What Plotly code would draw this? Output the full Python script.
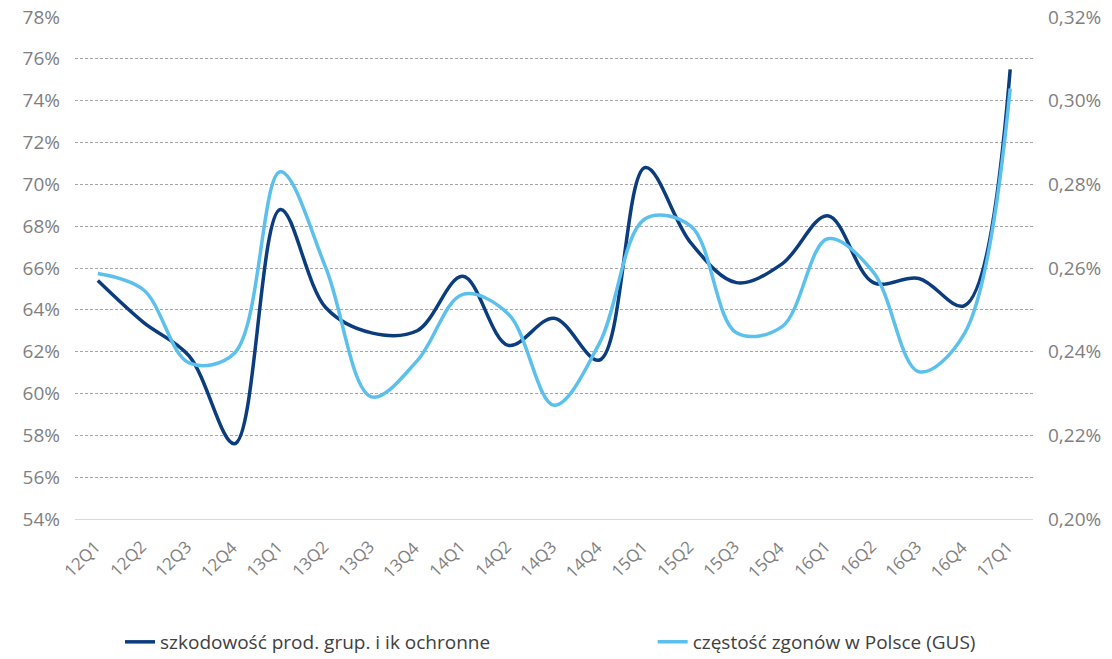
import plotly.graph_objects as go

categories = ["12Q1", "12Q2", "12Q3", "12Q4", "13Q1", "13Q2", "13Q3", "13Q4",
              "14Q1", "14Q2", "14Q3", "14Q4", "15Q1", "15Q2", "15Q3", "15Q4",
              "16Q1", "16Q2", "16Q3", "16Q4", "17Q1"]

# szkodowość prod. grup. i ik ochronne (left axis, %)
loss_ratio = [65.4, 63.4, 61.8, 57.6, 68.8, 64.1, 62.9, 63.0, 65.6, 62.3, 63.6,
              61.6, 70.8, 67.2, 65.3, 66.2, 68.5, 65.3, 65.5, 64.2, 75.5]

# częstość zgonów w Polsce (GUS) (right axis, %)
mortality = [0.2587, 0.2548, 0.2373, 0.2397, 0.2830, 0.2600, 0.2292, 0.2378,
             0.2537, 0.2490, 0.2272, 0.2421, 0.2718, 0.2700, 0.2445, 0.2460,
             0.2670, 0.2590, 0.2352, 0.2444, 0.3029]

name_loss = "szkodowość prod. grup. i ik ochronne"
name_mort = "częstość zgonów w Polsce (GUS)"

left_ticks = list(range(54, 80, 2))
right_ticks = [0.20, 0.22, 0.24, 0.26, 0.28, 0.30, 0.32]

DARK = "#0B3C7D"
LIGHT = "#5BC0EB"
FONT = "Open Sans"
TICK_COL = "#7f7f7f"

fig = go.Figure()
fig.add_trace(go.Scatter(x=categories, y=loss_ratio, name=name_loss, mode="lines",
                         line=dict(color=DARK, width=3.5, shape="spline", smoothing=1.0),
                         yaxis="y", legend="legend"))
fig.add_trace(go.Scatter(x=categories, y=mortality, name=name_mort, mode="lines",
                         line=dict(color=LIGHT, width=3.5, shape="spline", smoothing=1.0),
                         yaxis="y2", legend="legend2"))

# rotated category labels, positioned on the category axis
for cat in categories:
    fig.add_annotation(x=cat, xref="x", y=0, yref="paper",
                       text=cat, showarrow=False, textangle=-45,
                       xanchor="right", yanchor="top", xshift=10, yshift=-14,
                       font=dict(family=FONT, size=17, color=TICK_COL))

legend_common = dict(orientation="h", y=-0.245, yanchor="middle", xanchor="left",
                     font=dict(family=FONT, size=19, color="#404040"),
                     bgcolor="rgba(0,0,0,0)")

fig.update_layout(
    width=1112, height=659,
    margin=dict(l=75, r=79, t=17, b=140, autoexpand=False),
    paper_bgcolor="white", plot_bgcolor="white",
    separators=", ",
    font=dict(family=FONT, size=19, color=TICK_COL),
    showlegend=True,
    legend=dict(x=0.047, **legend_common),
    legend2=dict(x=0.603, **legend_common),
    xaxis=dict(type="category", range=[-0.5, len(categories) - 0.5],
               showticklabels=False, showgrid=False, zeroline=False,
               showline=True, linecolor="#d9d9d9", linewidth=1,
               automargin=False),
    yaxis=dict(range=[54, 78], tickvals=left_ticks,
               ticktext=[f"{v}%" for v in left_ticks],
               showgrid=True, gridcolor="#a6a6a6", gridwidth=1, griddash="3px,2px",
               zeroline=False, showline=False, ticks="",
               ticklabelstandoff=14,
               tickfont=dict(family=FONT, size=19, color=TICK_COL),
               automargin=False),
    yaxis2=dict(range=[0.20, 0.32], overlaying="y", side="right",
                tickvals=right_ticks,
                ticktext=[f"{v:.2f}%".replace(".", ",") for v in right_ticks],
                showgrid=False, zeroline=False, showline=False, ticks="",
                ticklabelstandoff=14,
                tickfont=dict(family=FONT, size=19, color=TICK_COL),
                automargin=False),
)

fig.write_html("out.html")
